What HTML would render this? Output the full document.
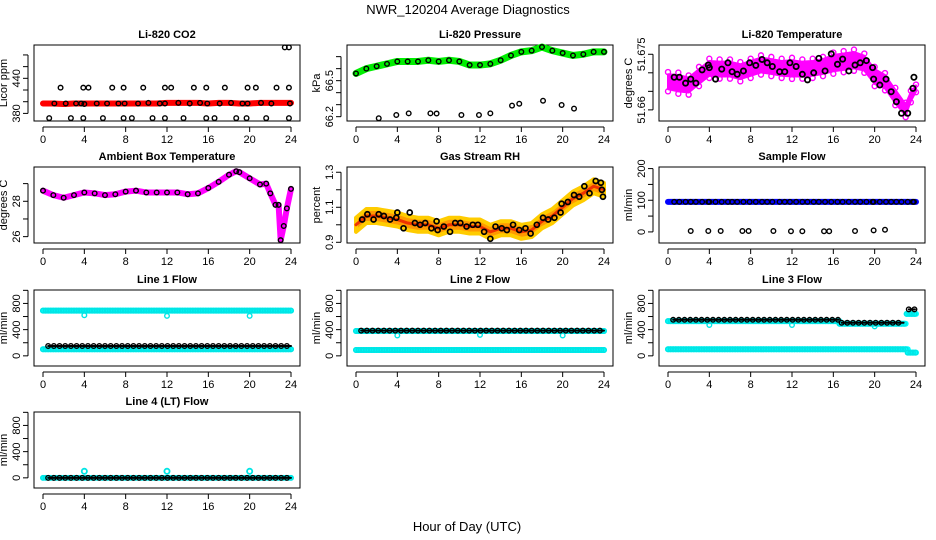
<!DOCTYPE html>
<html><head><meta charset="utf-8"><style>
html,body{margin:0;padding:0;background:#fff}
svg{display:block;font-family:"Liberation Sans",sans-serif}
</style></head><body>
<svg id="c" width="936" height="540" viewBox="0 0 936 540" xmlns="http://www.w3.org/2000/svg">
<text x="468" y="14" text-anchor="middle" font-size="13">NWR_120204  Average Diagnostics</text>
<text x="467" y="531" text-anchor="middle" font-size="13">Hour of Day (UTC)</text>
</svg>
<script>
// ---------- data ----------
const xTicks = [0,4,8,12,16,20,24];
const hours = [0,1,2,3,4,5,6,7,8,9,10,11,12,13,14,15,16,17,18,19,20,21,22,23,24];
// CO2
const co2Red = [397,397,396,397,397,397,397,397,397,397,397,397,398,398,398,398,397,398,398,397,397,398,398,398,398];
const co2MainX = [1.1,2.2,3.2,3.7,4.0,5.2,6.2,7.3,7.9,9.2,10.2,11.3,11.8,13.1,14.2,15.2,15.9,17.1,18.2,19.3,19.8,21.1,22.1,23.9];
const co2MainY = [397,397,397,397,396,397,397,397,397,397,398,397,397,398,397,398,397,397,398,397,397,398,397,397];
const co2HiX = [1.7,3.9,4.4,6.7,7.8,9.7,11.8,12.4,14.6,15.8,17.6,19.8,20.6,22.6,23.8];
const co2HiY = [424,424,424,424,424,424,424,424,424,424,424,424,424,424,424];
const co2LoX = [0.6,2.7,3.9,5.8,7.8,8.6,10.6,11.8,13.6,15.8,16.6,18.7,19.7,21.6,23.8];
const co2LoY = [372,372,372,372,372,372,372,372,372,372,372,372,372,372,372];
const co2TopX = [23.4,23.8];
const co2TopY = [493,493];
// Pressure
const presGreen = [66.56,66.60,66.62,66.64,66.66,66.66,66.66,66.67,66.66,66.67,66.66,66.63,66.63,66.64,66.67,66.71,66.74,66.75,66.78,66.75,66.73,66.71,66.72,66.74,66.74];
const presOutX = [2.2,3.9,5.1,7.2,7.8,10.2,11.9,13.0,15.1,15.8,18.1,19.9,21.1];
const presOutY = [66.187,66.214,66.228,66.228,66.226,66.214,66.214,66.228,66.292,66.308,66.333,66.297,66.267];
// Li-820 temperature
const tempX = [0,1,2,3,4,5,6,7,8,9,10,11,12,13,14,15,16,17,18,19,20,21,22,23,23.5,24];
const tempMid = [51.6676,51.6672,51.6667,51.6690,51.6712,51.6710,51.6710,51.6703,51.6712,51.6721,51.6717,51.6712,51.6712,51.6710,51.6712,51.6717,51.6726,51.6730,51.6734,51.6726,51.6690,51.6676,51.6636,51.6600,51.6636,51.6658];
const tempSpread = [0.0020,0.0022,0.0020,0.0020,0.0020,0.0020,0.0020,0.0020,0.0020,0.0020,0.0020,0.0020,0.0022,0.0020,0.0020,0.0020,0.0022,0.0022,0.0022,0.0020,0.0020,0.0018,0.0018,0.0015,0.0012,0.0008];
const tempBx = [0.6,1.1,1.7,2.2,2.7,3.3,3.9,4.0,4.6,5.2,5.8,6.2,6.7,7.3,7.9,8.5,9.1,9.6,10.1,10.8,11.3,11.8,12.4,13.0,13.5,14.1,14.6,15.2,15.8,16.4,16.9,17.5,18.1,18.6,19.2,19.8,19.9,20.5,21.1,21.6,22.1,22.6,23.2,23.7,23.8];
const tempBy = [51.6688,51.6688,51.6672,51.6683,51.6672,51.6708,51.6721,51.6714,51.6683,51.6710,51.6727,51.6703,51.6696,51.6705,51.6727,51.6720,51.6736,51.6727,51.6717,51.6703,51.6703,51.6727,51.6717,51.6696,51.6681,51.6700,51.6739,51.6705,51.6751,51.6723,51.6737,51.6705,51.6721,51.6727,51.6733,51.6714,51.6683,51.6667,51.6683,51.6649,51.6622,51.6591,51.6591,51.6658,51.6688];
// Ambient box temperature
const ambX = [0,1,2,3,4,5,6,7,8,9,10,11,12,13,14,15,16,17,18,18.7,19,20,21,21.6,22,22.5,22.8,23,23.3,23.6,24];
const ambY = [28.6,28.35,28.2,28.35,28.5,28.45,28.35,28.4,28.55,28.6,28.5,28.5,28.5,28.5,28.4,28.45,28.75,29.1,29.5,29.7,29.65,29.3,28.95,29.0,28.45,27.8,27.8,25.8,26.6,27.6,28.7];
// Gas stream RH
const rhMid = [1.00,1.05,1.05,1.04,1.03,1.01,1.00,1.00,0.98,1.00,1.00,0.99,0.99,0.96,0.98,0.98,0.96,0.97,1.02,1.05,1.10,1.15,1.18,1.22,1.20];
const rhBx = [0.6,1.1,1.7,2.2,2.7,3.3,3.9,4.0,4.6,5.2,5.7,6.2,6.7,7.3,7.8,7.9,8.5,9.1,9.6,10.1,10.7,11.3,11.8,12.4,13.0,13.5,14.1,14.6,15.2,15.8,16.4,16.9,17.5,18.1,18.6,19.2,19.8,19.9,20.5,21.1,21.6,22.1,22.6,23.2,23.7,23.8,23.9];
const rhBy = [1.03,1.06,1.03,1.06,1.05,1.03,1.04,1.07,0.98,1.07,1.01,1.00,1.01,0.98,1.02,0.97,0.99,0.96,1.01,1.01,0.99,1.00,1.00,0.96,0.92,0.99,0.98,0.97,1.00,0.97,0.98,0.95,1.00,1.04,1.03,1.04,1.07,1.12,1.13,1.17,1.16,1.22,1.18,1.25,1.24,1.20,1.16];
// Sample flow
const sfBand = [95,95,95,95,95,95,95,95,95,95,95,95,95,95,95,95,95,95,95,95,95,95,95,95,95];
const sfOutX = [2.2,3.9,5.1,7.2,7.8,10.2,11.9,13.0,15.1,15.6,18.1,19.9,21.0];
const sfOutY = [3,3,3,3,3,3,2,2,2,2,3,5,7];
// Line flows: segments [startHour, endHour, value]
const l1Cyan = [[0,24,690],[0,24,100]];
const l1Black = [[0.5,24,150]];
const l1CyanOutX = [4,12,20], l1CyanOutY = [620,610,610];
const l2Cyan = [[0,24,380],[0,24,90]];
const l2Black = [[0.5,24,385]];
const l2CyanOutX = [4,12,20], l2CyanOutY = [310,320,310];
const l3Cyan = [[0,16.6,530],[16.6,23,490],[23.1,24,640],[0,23.2,100],[23.2,24,50]];
const l3Black = [[0.5,16.5,550],[16.8,22.8,505],[23.3,23.9,710]];
const l3CyanOutX = [4,12,20], l3CyanOutY = [470,470,450];
const l4Cyan = [[0,24,0]];
const l4Black = [[0.5,24,0]];
const l4CyanOutX = [4,12,20], l4CyanOutY = [100,100,100];

// ---------- rendering ----------
const svg = document.getElementById('c');
const NS = 'http://www.w3.org/2000/svg';
const colX0 = [43,356,668], rowTop = [45,167,290,412], H = 76, PPH = 10.333;
function mk(tag, attrs, parent){const e=document.createElementNS(NS,tag);for(const k in attrs)e.setAttribute(k,attrs[k]);(parent||svg).appendChild(e);return e;}

function panel(col,row,title,ylab,ymin,ymax,yTicks,yLabels,name){
  const x0=colX0[col], L=x0-9, R=x0+257, T=rowTop[row], B=T+H;
  const g=mk('g',{});
  
  
  const sx=h=>x0+h*PPH, sy=v=>B-(v-ymin)/(ymax-ymin)*H;
  const box=mk('rect',{x:L,y:T,width:R-L,height:H,fill:'none',stroke:'#000','stroke-width':1},g);
  
  
  const t=mk('text',{x:(L+R)/2,y:T-7,'text-anchor':'middle','font-size':11,'font-weight':'bold'},g);
  t.textContent=title;
  
  
  const xa=mk('g',{},g);
  
  
  mk('line',{x1:sx(0),x2:sx(24),y1:B+6,y2:B+6,stroke:'#000'},xa);
  xTicks.forEach(v=>{
    mk('line',{x1:sx(v),x2:sx(v),y1:B+6,y2:B+11,stroke:'#000'},xa);
    const tl=mk('text',{x:sx(v),y:B+22,'text-anchor':'middle','font-size':11},xa);
    tl.textContent=v;
    
    
  });
  const ya=mk('g',{},g);
  
  
  mk('line',{x1:L-6,x2:L-6,y1:sy(yTicks[0]),y2:sy(yTicks[yTicks.length-1]),stroke:'#000'},ya);
  yTicks.forEach(v=>mk('line',{x1:L-11,x2:L-6,y1:sy(v),y2:sy(v),stroke:'#000'},ya));
  yLabels.forEach(v=>{
    const yy=sy(v);
    const tl=mk('text',{x:L-14,y:yy,'text-anchor':'middle','font-size':11,transform:`rotate(-90 ${L-14} ${yy})`},ya);
    tl.textContent=String(v);
    
    
  });
  const yl=mk('text',{x:L-27,y:(T+B)/2,'text-anchor':'middle','font-size':11,transform:`rotate(-90 ${L-27} ${(T+B)/2})`},g);
  yl.textContent=ylab;
  
  
  const clipId='clip'+col+row;
  const cp=mk('clipPath',{id:clipId},g);
  mk('rect',{x:L,y:T-4,width:R-L,height:H+4},cp);
  const plot=mk('g',{'clip-path':`url(#${clipId})`},g);
  return {sx,sy,g:plot};
}
function band(p,xs,ys,color,w,name){
  const pl=mk('polyline',{points:xs.map((x,i)=>p.sx(x)+','+p.sy(ys[i])).join(' '),fill:'none',stroke:color,'stroke-width':w,'stroke-linejoin':'round','stroke-linecap':'round'},p.g);
  
  
}
function pts(p,xs,ys,color,name,r,sw){
  const g=mk('g',{},p.g);
  
  
  xs.forEach((x,i)=>{
    const c=mk('circle',{cx:p.sx(x),cy:p.sy(ys[i]),r:r||2.3,fill:'none',stroke:color,'stroke-width':sw||1.4},g);
    
    
  });
}
function segs(p,list,color,w,name,step,r){
  list.forEach(s=>{
    band(p,[s[0],s[1]],[s[2],s[2]],color,w,name+'-band');
    const xs=[],ys=[];
    for(let h=s[0];h<=s[1]+1e-6;h+=step){xs.push(h);ys.push(s[2]);}
    pts(p,xs,ys,color==='#00ffff'?'#00e5e5':color,name+'-points',r);
  });
}

let p=panel(0,0,'Li-820 CO2','Licor ppm',367,497,[380,400,420,440,460,480],[380,440],'co2');
band(p,hours,co2Red,'#ff0000',6,'co2-red-band');
pts(p,co2MainX,co2MainY,'#000','co2-black-points');
pts(p,co2HiX,co2HiY,'#000','co2-high-points');
pts(p,co2LoX,co2LoY,'#000','co2-low-points');
pts(p,co2TopX,co2TopY,'#000','co2-top-points');

p=panel(1,0,'Li-820 Pressure','kPa',66.164,66.797,[66.2,66.3,66.4,66.5,66.6,66.7],[66.2,66.5],'pressure');
band(p,hours,presGreen,'#00ee00',7,'pressure-green-band');
pts(p,hours,presGreen,'#000','pressure-black-points');
pts(p,presOutX,presOutY,'#000','pressure-outlier-points');

p=panel(2,0,'Li-820 Temperature','degrees C',51.657,51.6775,[51.660,51.665,51.670,51.675],[51.660,51.675],'li820-temp');
{
  const up=tempX.map((x,i)=>p.sx(x)+','+p.sy(tempMid[i]+tempSpread[i]));
  const dn=tempX.map((x,i)=>p.sx(x)+','+p.sy(tempMid[i]-tempSpread[i])).reverse();
  const poly=mk('polygon',{points:up.concat(dn).join(' '),fill:'#ff00ff',stroke:'#ff00ff','stroke-width':2,'stroke-linejoin':'round'},p.g);
  
  
  pts(p,tempX,tempMid.map((v,i)=>v+tempSpread[i]*1.3),'#ff00ff','li820-temp-upper-points',2.5);
  pts(p,tempX,tempMid.map((v,i)=>v-tempSpread[i]*1.3),'#ff00ff','li820-temp-lower-points',2.5);
}
pts(p,tempBx,tempBy,'#000','li820-temp-black-points',2.6,1.8);

p=panel(0,1,'Ambient Box Temperature','degrees C',25.64,29.94,[26,27,28,29],[26,28],'ambient');
band(p,ambX,ambY,'#ff00ff',6,'ambient-magenta-band');
pts(p,ambX,ambY,'#000','ambient-black-points');

p=panel(1,1,'Gas Stream RH','percent',0.896,1.33,[0.9,1.0,1.1,1.2,1.3],[0.9,1.1,1.3],'rh');
{
  const up=hours.map((x,i)=>p.sx(x)+','+p.sy(rhMid[i]+0.04));
  const dn=hours.map((x,i)=>p.sx(x)+','+p.sy(rhMid[i]-0.04)).reverse();
  const poly=mk('polygon',{points:up.concat(dn).join(' '),fill:'#ff9900',stroke:'#ffcc00','stroke-width':4,'stroke-linejoin':'round'},p.g);
  
  
}
band(p,hours,rhMid,'#ee3300',3,'rh-red-line');
pts(p,rhBx,rhBy,'#000','rh-black-points',2.5,1.7);

p=panel(2,1,'Sample Flow','ml/min',-35,205,[0,50,100,150,200],[0,100,200],'sample-flow');
band(p,hours,sfBand,'#0000ff',6,'sample-flow-blue-band');
pts(p,tempBx,tempBx.map(()=>sfBand[0]),'#000','sample-flow-black-points');
pts(p,sfOutX,sfOutY,'#000','sample-flow-outlier-points');

const fT=[0,200,400,600,800,1000], fL=[0,400,800];
p=panel(0,2,'Line 1 Flow','ml/min',-155,1005,fT,fL,'line1');
segs(p,l1Cyan,'#00ffff',6,'line1-cyan',0.25,2.3);
pts(p,l1CyanOutX,l1CyanOutY,'#00e5e5','line1-cyan-outliers');
segs(p,l1Black,'#000',2,'line1-black',0.55,2.3);

p=panel(1,2,'Line 2 Flow','ml/min',-155,1005,fT,fL,'line2');
segs(p,l2Cyan,'#00ffff',6,'line2-cyan',0.25,2.3);
pts(p,l2CyanOutX,l2CyanOutY,'#00e5e5','line2-cyan-outliers');
segs(p,l2Black,'#000',2,'line2-black',0.55,2.3);

p=panel(2,2,'Line 3 Flow','ml/min',-155,1005,fT,fL,'line3');
segs(p,l3Cyan,'#00ffff',6,'line3-cyan',0.25,2.3);
pts(p,l3CyanOutX,l3CyanOutY,'#00e5e5','line3-cyan-outliers');
segs(p,l3Black,'#000',2,'line3-black',0.55,2.3);

p=panel(0,3,'Line 4 (LT) Flow','ml/min',-155,1005,fT,fL,'line4');
segs(p,l4Cyan,'#00ffff',5,'line4-cyan',0.25,2.3);
pts(p,l4CyanOutX,l4CyanOutY,'#00e5e5','line4-cyan-outliers',2.6,1.8);
segs(p,l4Black,'#000',2,'line4-black',0.55,2.3);
</script>
</body></html>
